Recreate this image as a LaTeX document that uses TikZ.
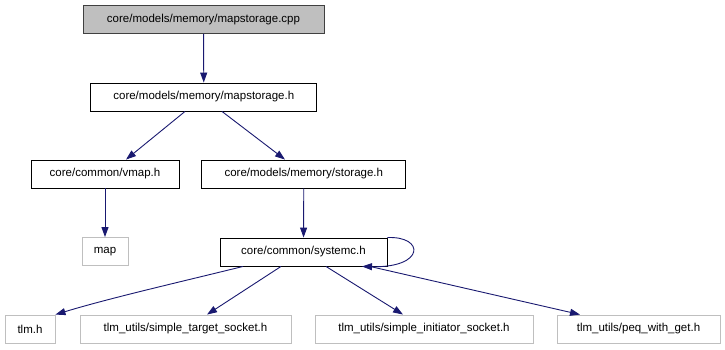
\documentclass[tikz,border=0pt]{standalone}
\usepackage{fontspec}
\setmainfont{Liberation Sans}
\usetikzlibrary{arrows.meta}
\definecolor{edgeblue}{HTML}{191970}
\definecolor{ghost}{HTML}{BFBFBF}
\begin{document}
\begin{tikzpicture}[x=1pt,y=-1pt,
  every node/.style={font=\fontsize{11.5}{13}\selectfont, inner sep=0pt, minimum height=28pt},
  file/.style={draw=black, line width=0.9pt, fill=white},
  root/.style={draw=black!75, line width=0.9pt, fill=ghost},
  ext/.style={draw=ghost, line width=0.9pt, fill=white},
  dep/.style={draw=edgeblue, line width=0.9pt, -{Triangle[length=10pt,width=7pt]}, fill=none},
]
\useasboundingbox (0,0) rectangle (725,349);

% top of the include hierarchy
\node[root, minimum width=241pt] (cpp) at (203.5,19.5) {core/models/memory/mapstorage.cpp};
\node[file, minimum width=226pt] (mh) at (203.8,97) {core/models/memory/mapstorage.h};
\node[file, minimum width=148pt] (vmap) at (105,174) {core/common/vmap.h};
\node[file, minimum width=204pt] (stor) at (303.8,174) {core/models/memory/storage.h};
\node[ext, minimum width=46pt] (map) at (105,251.5) {map};
\node[file, minimum width=167pt] (sysc) at (303.5,252) {core/common/systemc.h};

% TLM headers
\node[ext, minimum width=50pt] (tlm) at (30,329) {tlm.h};
\node[ext, minimum width=211pt] (tgt) at (185.5,329) {tlm\_utils/simple\_target\_socket.h};
\node[ext, minimum width=218pt] (ini) at (424,329) {tlm\_utils/simple\_initiator\_socket.h};
\node[ext, minimum width=163pt] (peq) at (638.5,329) {tlm\_utils/peq\_with\_get.h};

% include edges
\draw[dep] (cpp) -- (mh);
\draw[dep] (mh.south -| 185,0) -- (vmap.north -| 126,0);
\draw[dep] (mh.south -| 222,0) -- (stor.north -| 285,0);
\draw[dep] (vmap) -- (map);
\draw[dep] (stor) -- (sysc);
\draw[dep] (sysc.south -| 243,0) .. controls (180,282) and (110,298) .. (tlm.north east);
\draw[dep] (sysc.south -| 281,0) -- (tgt.north -| 207,0);
\draw[dep] (sysc.south -| 326,0) -- (ini.north -| 403,0);
\draw[dep] (sysc.south -| 370,0) -- (peq.north -| 580,0);
% systemc.h includes itself
\draw[dep] (sysc.north east) .. controls (425,236) and (425,268) .. (sysc.south -| 362,0);
\end{tikzpicture}
\end{document}
